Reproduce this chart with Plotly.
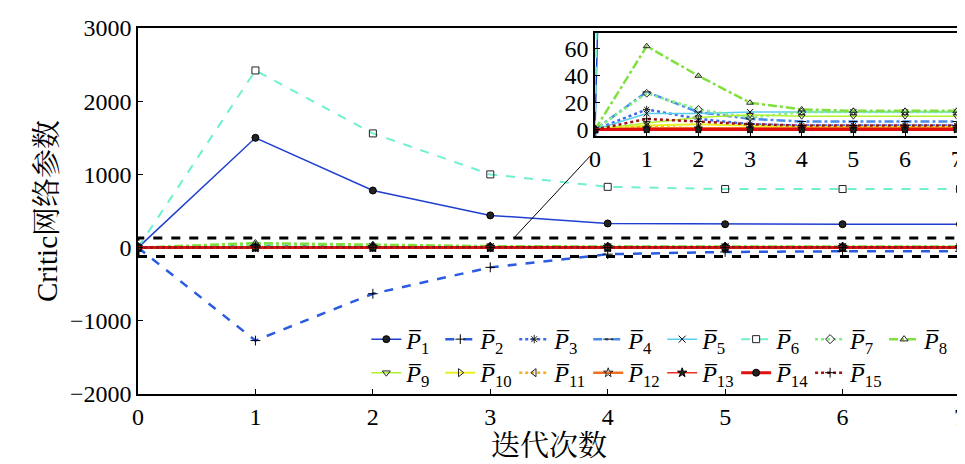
import plotly.graph_objects as go

iters = [0, 1, 2, 3, 4, 5, 6, 7]
names = ["<i>P\u0305</i><sub>%d</sub>" % i for i in range(1, 16)]

p1 = [0, 1500, 780, 440, 330, 320, 320, 320]
p2 = [0, -1270, -630, -270, -90, -60, -50, -50]
p3 = [0, 15, 8, 4, 3, 3, 3, 3]
p4 = [0, 28, 13, 8, 6, 6, 6, 6]
p5 = [0, 12, 12, 13, 13, 13, 13, 13]
p6 = [0, 2420, 1560, 1000, 830, 800, 800, 800]
p7 = [0, 27, 15, 9, 13, 13, 13, 13]
p8 = [0, 62, 40, 20, 15, 14, 14, 14]
p9 = [0, 5, 9, 11, 10, 10, 10, 10]
p10 = [0, 3, 4, 3, 2, 2, 2, 2]
p11 = [0, 2, 1, 1, 1, 1, 1, 1]
p12 = [0, 1, 1, 1, 1, 1, 1, 1]
p13 = [0, 0, 0, 0, 0, 0, 0, 0]
p14 = [0, 0, 0, 0, 0, 0, 0, 0]
p15 = [0, 8, 6, 4, 3, 3, 3, 3]

series = [p1, p2, p3, p4, p5, p6, p7, p8, p9, p10, p11, p12, p13, p14, p15]
colors = ["#1f3fd0", "#2a5be0", "#3a6af0", "#4a8ae8", "#5ad0f0", "#70f0d0", "#80f080",
          "#80e040", "#b0f030", "#e8f020", "#f0b020", "#f07020", "#f03020", "#e01010", "#a01010"]
dashes = ["solid", "dash", "dot", "dashdot", "solid", "dash", "dot", "dashdot",
          "solid", "solid", "dot", "solid", "solid", "solid", "dot"]
symbols = ["circle", "cross-thin", "asterisk-open", "line-ew", "x-thin", "square-open", "diamond-open",
           "triangle-up-open", "triangle-down-open", "triangle-right-open", "triangle-left-open",
           "star-open", "star", "circle", "cross-thin"]
widths = [1.5, 2.5, 2.5, 2.5, 1.5, 2, 2.5, 2.5, 1.5, 2, 2.5, 2.5, 1.5, 3, 2.5]

fig = go.Figure()
legends = {}
for i, s in enumerate(series):
    lg = "legend" if i == 0 else "legend%d" % (i + 1)
    mk = dict(symbol=symbols[i], size=7, color="#222222", line=dict(color="#000000", width=1))
    fig.add_trace(go.Scatter(x=iters, y=s, name=names[i], mode="lines+markers",
                             line=dict(color=colors[i], dash=dashes[i], width=widths[i]),
                             marker=mk, legend=lg))
    fig.add_trace(go.Scatter(x=iters, y=s, mode="lines+markers", showlegend=False,
                             line=dict(color=colors[i], dash=dashes[i], width=widths[i]),
                             marker=dict(mk, size=6), xaxis="x2", yaxis="y2"))
    col, row = i % 8, i // 8
    px_x = 360 + col * 74.5
    px_y = 308 + row * 34
    legends[lg] = dict(x=(px_x - 130) / 828, y=(386 - px_y) / 371, xanchor="left", yanchor="top",
                       bgcolor="rgba(0,0,0,0)", font=dict(size=24), itemwidth=30)

serif = "Liberation Serif, Noto Serif CJK SC, Noto Sans CJK SC"
axis_common = dict(showgrid=False, zeroline=False, ticks="inside", showline=True,
                   linecolor="black", linewidth=1.5, mirror=True, tickcolor="black")
fig.update_layout(
    width=965, height=464,
    margin=dict(l=130, r=7, t=15, b=78),
    plot_bgcolor="white", paper_bgcolor="white",
    font=dict(family=serif, size=24, color="black"),
    xaxis=dict(range=[0, 7], dtick=1, title=dict(text="迭代次数", standoff=0), **axis_common),
    yaxis=dict(range=[-2000, 3000], dtick=1000, title=dict(text="Critic网络参数", standoff=4),
               **axis_common),
    xaxis2=dict(domain=[0.556, 0.996], anchor="y2", range=[0, 7], dtick=1, **axis_common),
    yaxis2=dict(domain=[0.704, 0.987], anchor="x2", range=[-5, 72], dtick=20, **axis_common),
    shapes=[
        dict(type="rect", xref="x", yref="y", x0=0, x1=7, y0=-120, y1=130,
             line=dict(color="black", width=3, dash="dash")),
        dict(type="line", xref="x", yref="y", x0=3.2, y0=130, x1=3.85, y1=1250,
             line=dict(color="black", width=1)),
    ],
    **legends,
)

fig.write_html("out.html")
